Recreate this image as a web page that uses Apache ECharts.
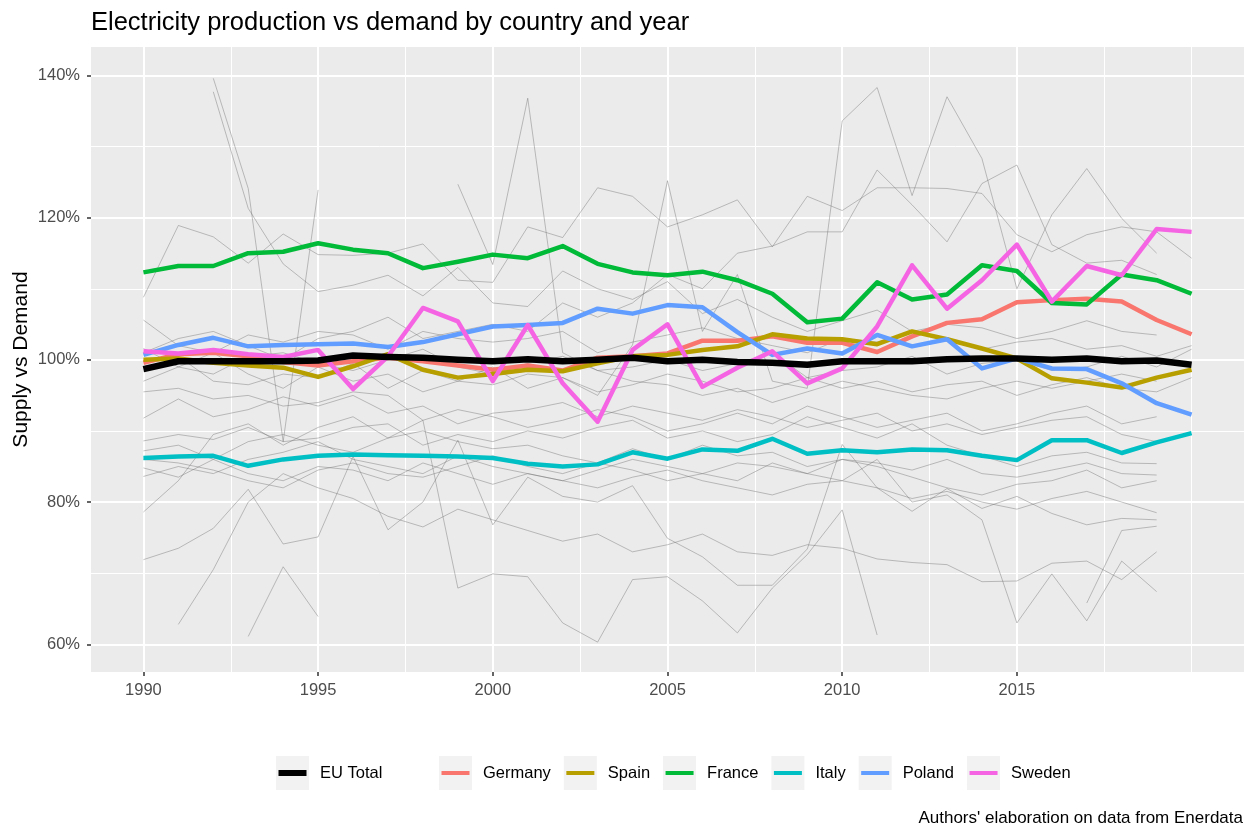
<!DOCTYPE html>
<html>
<head>
<meta charset="utf-8">
<script src="https://cdn.jsdelivr.net/npm/echarts@6.0.0/dist/echarts.min.js"></script>
<style>
  html, body { margin: 0; padding: 0; background: #fff; }
  #chart-container { width: 1250px; height: 827px; }
</style>
</head>
<body>
<div id="chart-container"></div>
<script>
// years on the x axis
const years = [1990, 1991, 1992, 1993, 1994, 1995, 1996, 1997, 1998, 1999,
  2000, 2001, 2002, 2003, 2004, 2005, 2006, 2007, 2008, 2009,
  2010, 2011, 2012, 2013, 2014, 2015, 2016, 2017, 2018, 2019, 2020];

// tick labels
const xTicks = [1990, 1995, 2000, 2005, 2010, 2015];
const xMinor = [1992.5, 1997.5, 2002.5, 2007.5, 2012.5, 2017.5, 2020];
const yTicks = [60, 80, 100, 120, 140];
const yMinor = [70, 90, 110, 130];

// highlighted series (supply / demand, %)
const euTotal = [98.7, 99.8, 99.8, 99.8, 99.8, 99.9, 100.6, 100.4, 100.3, 100.0, 99.8, 100.1, 99.8, 100.0, 100.3, 99.8, 100.0, 99.7, 99.6, 99.3, 99.8, 99.8, 99.8, 100.1, 100.2, 100.2, 100.0, 100.2, 99.8, 99.9, 99.3];
const germany = [99.6, 100.8, 101.0, 100.5, 99.7, 99.2, 99.8, 100.3, 99.8, 99.2, 98.6, 99.2, 98.5, 100.3, 100.5, 100.9, 102.7, 102.7, 103.3, 102.4, 102.4, 101.1, 103.3, 105.2, 105.7, 108.1, 108.4, 108.6, 108.2, 105.6, 103.6];
const spain = [100.0, 100.2, 99.6, 99.2, 98.9, 97.6, 99.1, 100.8, 98.6, 97.5, 98.0, 98.6, 98.4, 99.5, 100.5, 100.7, 101.4, 101.9, 103.6, 103.0, 102.9, 102.2, 104.0, 102.9, 101.6, 100.2, 97.4, 96.8, 96.1, 97.5, 98.6];
const france = [112.3, 113.2, 113.2, 115.0, 115.2, 116.4, 115.5, 115.0, 112.9, 113.8, 114.8, 114.3, 116.0, 113.5, 112.3, 111.9, 112.4, 111.2, 109.3, 105.3, 105.8, 110.9, 108.5, 109.2, 113.3, 112.5, 108.0, 107.8, 112.0, 111.2, 109.3];
const italy = [86.2, 86.4, 86.5, 85.1, 86.0, 86.5, 86.7, 86.6, 86.5, 86.4, 86.2, 85.4, 85.0, 85.3, 87.0, 86.1, 87.4, 87.2, 88.9, 86.8, 87.3, 87.0, 87.4, 87.3, 86.5, 85.9, 88.7, 88.7, 86.9, 88.4, 89.7];
const poland = [100.7, 102.1, 103.1, 101.9, 102.1, 102.2, 102.3, 101.8, 102.5, 103.6, 104.7, 104.9, 105.2, 107.2, 106.5, 107.7, 107.4, 103.9, 100.7, 101.6, 100.9, 103.5, 101.9, 102.9, 98.8, 100.2, 98.8, 98.7, 96.7, 93.9, 92.3];
const sweden = [101.2, 100.9, 101.4, 100.8, 100.4, 101.4, 95.9, 100.5, 107.3, 105.4, 97.0, 104.9, 96.7, 91.3, 101.4, 105.0, 96.2, 98.9, 101.2, 96.7, 98.8, 104.7, 113.3, 107.2, 111.2, 116.2, 108.2, 113.2, 111.9, 118.4, 118.0];

// the other countries, drawn in grey
const grey01 = [108.8, 118.9, 117.3, 113.6, 117.7, 114.8, 114.7, 115.0, 116.3, 111.2, 110.9, 118.7, 117.2, 124.2, 123.0, 118.7, 120.4, 122.5, 115.9, 123.0, 121.0, 124.2, 124.2, 124.1, 123.4, 117.6, 115.2, 117.6, 118.7, 118.0, 114.3];
const grey02 = [null, null, 137.7, 121.3, 113.5, 109.6, 110.5, 111.9, 109.0, 113.0, 108.0, 107.5, 112.5, 110.0, 108.5, 111.0, 106.5, 108.5, 106.0, 104.0, 105.5, 107.0, 104.0, 105.0, 104.5, 103.0, 104.0, 105.5, 104.0, 103.5, null];
const grey03 = [null, null, 139.6, 124.1, 88.5, 123.9, null, null, null, null, null, null, null, null, null, null, null, null, null, null, null, null, null, null, null, null, null, null, null, null, null];
const grey04 = [null, null, null, null, null, null, null, null, null, 124.7, 113.4, 136.8, 101.0, 98.5, 97.0, 96.5, 95.0, 96.0, 94.0, 95.5, 97.0, 96.0, 95.0, 94.5, 96.0, 97.0, 96.0, 97.0, 98.0, 97.0, null];
const grey05 = [97.0, 99.0, 101.0, 98.0, 96.0, 99.0, 97.0, 98.0, 95.5, 97.0, 99.0, 96.0, 97.5, 95.0, 102.1, 125.2, 104.0, 112.0, 97.0, 96.0, 133.6, 138.3, 123.1, 137.0, 128.3, 110.0, 120.4, 126.9, 119.9, 115.0, null];
const grey06 = [101.0, 103.0, 104.0, 102.0, 100.0, 103.0, 104.0, 106.0, 103.0, 104.0, 105.0, 104.0, 108.0, 106.0, 108.0, 112.0, 110.0, 115.0, 116.0, 118.0, 118.0, 126.7, 121.8, 116.6, 124.8, 127.4, 116.2, 113.6, 114.0, 112.0, null];
const grey07 = [105.6, 102.0, 101.0, 103.5, 102.5, 104.0, 103.5, 101.5, 104.0, 103.0, 102.5, 103.0, 104.0, 101.0, 102.5, 103.5, 104.5, 103.0, 102.0, 101.0, 103.0, 102.5, 104.0, 103.0, 101.5, 102.5, 103.0, 101.5, 102.0, 100.5, 102.0];
const grey08 = [101.6, 99.0, 98.0, 100.5, 101.0, 99.5, 98.5, 100.0, 101.5, 99.0, 98.0, 99.5, 100.5, 98.5, 99.0, 100.0, 98.5, 99.5, 101.0, 97.5, 98.5, 99.0, 100.5, 98.0, 99.5, 100.0, 98.5, 99.0, 100.5, 99.0, 101.5];
const grey09 = [98.4, 100.5, 97.0, 96.5, 98.0, 97.5, 99.5, 96.0, 98.5, 97.0, 96.5, 98.0, 97.5, 95.5, 96.5, 98.0, 97.0, 95.5, 96.0, 97.5, 96.0, 97.0, 95.5, 96.5, 97.0, 95.0, 96.5, 97.5, 96.0, 95.5, 97.5];
const grey10 = [95.5, 96.0, 94.5, 95.0, 93.5, 94.0, 95.5, 95.0, 91.5, 67.9, 69.9, 69.5, 63.0, 60.3, 69.1, 69.5, 66.1, 61.6, 67.9, 72.6, 78.9, 61.3, null, null, null, null, null, null, null, null, null];
const grey11 = [91.8, 94.5, 92.0, 93.0, 94.8, 93.5, 95.0, 92.5, 93.5, 91.0, 92.5, 93.0, 94.0, 92.0, 93.5, 92.5, 91.5, 93.0, 92.0, 90.5, 91.5, 92.5, 90.0, 91.0, 89.5, 90.5, 91.5, 92.0, 89.5, 88.5, null];
const grey12 = [88.6, 89.5, 88.8, 90.5, 88.5, 89.0, 90.5, 91.0, 88.0, 89.5, 88.5, 90.0, 89.0, 90.5, 91.5, 89.0, 90.0, 88.5, 89.5, 92.0, 90.5, 89.0, 91.0, 88.0, 86.5, 85.0, 86.5, 87.0, 85.5, 85.4, null];
const grey13 = [87.2, 88.0, 86.0, 88.5, 89.5, 88.0, 87.0, 89.0, 90.0, 88.5, 87.5, 88.0, 86.5, 85.5, 87.5, 86.0, 88.0, 86.5, 87.0, 85.0, 86.0, 85.5, 84.5, 86.0, 84.0, 83.5, 84.5, 85.5, 84.0, 83.8, null];
const grey14 = [84.8, 83.5, 86.0, 84.0, 83.0, 85.0, 84.5, 83.0, 85.5, 84.0, 82.5, 84.0, 83.0, 82.0, 83.5, 84.5, 83.0, 82.0, 81.0, 82.5, 83.0, 82.0, 80.5, 81.5, 80.0, 79.0, 80.5, 81.5, 80.0, 78.5, null];
const grey15 = [83.6, 85.0, 84.0, 86.0, 87.0, 88.5, 86.0, 85.0, 84.0, 86.5, 85.0, 84.0, 83.0, 84.5, 86.0, 85.0, 84.0, 83.0, 85.5, 84.0, 86.0, 85.0, 83.5, 82.0, 81.0, 82.5, 83.0, 84.5, 82.0, 83.0, null];
const grey16 = [78.6, 83.0, 89.5, 91.0, 88.0, 90.5, 92.0, 89.0, 91.5, 93.0, 92.0, 90.5, 91.5, 93.0, 92.0, 90.0, 91.0, 92.5, 91.0, 93.5, 92.0, 90.5, 91.5, 92.5, 90.0, 91.0, 92.5, 93.5, 91.0, 92.0, null];
const grey17 = [71.9, 73.5, 76.3, 81.8, 74.1, 75.1, 86.4, 76.1, 80.0, 88.7, 76.8, 83.5, 80.8, 80.0, 82.3, 74.9, 72.3, 68.3, 68.3, 73.4, 88.1, 82.0, 78.7, 81.9, 79.1, 80.8, 78.4, 76.8, 77.7, 77.5, null];
const grey18 = [null, 62.8, 70.5, 80.0, 84.0, 82.0, 80.5, 78.0, 76.5, 79.0, 77.5, 76.0, 74.5, 75.5, 73.0, 74.0, 75.5, 73.0, 72.5, 74.0, 73.5, 72.0, 71.5, 71.2, 68.8, 68.9, 71.4, 71.7, 69.1, 73.0, null];
const grey19 = [86.0, 85.5, 84.5, 83.0, 82.0, 84.5, 85.5, 84.0, 83.5, 85.0, 86.5, 85.0, 84.0, 85.5, 84.5, 83.0, 84.0, 85.5, 85.0, 84.0, 83.0, 86.0, 80.0, 81.0, 77.5, 63.0, 69.9, 63.3, 71.7, 67.4, null];
const grey20 = [null, null, null, null, null, null, null, null, null, null, null, null, null, null, null, null, null, null, null, null, null, null, null, null, null, null, null, 65.8, 76.0, 76.6, null];
const grey21 = [null, null, null, 61.1, 70.9, 63.9, null, null, null, null, null, null, null, null, null, null, null, null, null, null, null, null, null, null, null, null, null, null, null, null, null];

const greyLines = [grey01, grey02, grey03, grey04, grey05, grey06, grey07, grey08, grey09, grey10,
  grey11, grey12, grey13, grey14, grey15, grey16, grey17, grey18, grey19, grey20, grey21];

const highlighted = [
  { name: 'Germany', values: germany, color: '#F8766D', width: 4.5 },
  { name: 'Spain', values: spain, color: '#B79F00', width: 4.5 },
  { name: 'France', values: france, color: '#00BA38', width: 4.5 },
  { name: 'Italy', values: italy, color: '#00BFC4', width: 4.5 },
  { name: 'Poland', values: poland, color: '#619CFF', width: 4.5 },
  { name: 'Sweden', values: sweden, color: '#F564E3', width: 4.5 },
  { name: 'EU Total', values: euTotal, color: '#000000', width: 6.5 }
];

function toPoints(values) {
  const pts = [];
  values.forEach(function (v, i) {
    if (v !== null) pts.push([years[i], v]);
  });
  return pts;
}

const series = [];

// minor grid lines (ggplot style), kept under the data
series.push({
  name: 'minor-grid',
  type: 'line',
  data: [],
  silent: true,
  markLine: {
    silent: true,
    z: 1,
    symbol: ['none', 'none'],
    label: { show: false },
    emphasis: { disabled: true },
    lineStyle: { color: '#FFFFFF', width: 1, type: 'solid', opacity: 1 },
    animation: false,
    data: xMinor.map(v => ({ xAxis: v })).concat(yMinor.map(v => ({ yAxis: v })))
  }
});

greyLines.forEach(function (vals, idx) {
  series.push({
    name: 'other' + idx,
    type: 'line',
    z: 3,
    data: toPoints(vals),
    showSymbol: false,
    symbol: 'none',
    silent: true,
    lineStyle: { color: 'rgba(110,110,110,0.42)', width: 1 }
  });
});

highlighted.forEach(function (h) {
  series.push({
    name: h.name,
    type: 'line',
    z: 4,
    data: toPoints(h.values),
    showSymbol: false,
    symbol: 'none',
    color: h.color,
    itemStyle: { color: h.color },
    lineStyle: { color: h.color, width: h.width, join: 'round', cap: 'butt' }
  });
});

// legend keys: grey box behind, coloured bar in front
const keyBox = 'path://M0,0H33V34H0ZM39,34';
const keyBar = 'path://M0,0M39,34M2.5,15H30.5V19H2.5Z';
const keyBarThick = 'path://M0,0M39,34M2.5,14H30.5V20H2.5Z';
const countryNames = ['Germany', 'Spain', 'France', 'Italy', 'Poland', 'Sweden'];

function legendPair(names, left, gap) {
  const base = {
    orient: 'horizontal',
    left: left,
    top: 756,
    padding: 0,
    itemWidth: 39,
    itemHeight: 34,
    itemGap: gap,
    selectedMode: false,
    textStyle: { fontFamily: 'Liberation Sans, Arial, sans-serif', fontSize: 16.5 }
  };
  const back = Object.assign({}, base, {
    z: 2,
    data: names.map(n => ({ name: n, icon: keyBox })),
    itemStyle: { color: '#F2F2F2', borderWidth: 0 },
    textStyle: Object.assign({}, base.textStyle, { color: 'rgba(0,0,0,0)' })
  });
  const front = Object.assign({}, base, {
    z: 3,
    data: names.map(n => ({ name: n, icon: n === 'EU Total' ? keyBarThick : keyBar })),
    itemStyle: { borderWidth: 0 },
    textStyle: Object.assign({}, base.textStyle, { color: '#000000' })
  });
  return [back, front];
}

const legends = legendPair(['EU Total'], 276, 10).concat(legendPair(countryNames, 439, 13));

const chart = echarts.init(document.getElementById('chart-container'), null, { renderer: 'canvas' });
chart.setOption({
  animation: false,
  backgroundColor: '#FFFFFF',
  textStyle: { fontFamily: 'Liberation Sans, Arial, sans-serif' },
  title: [
    {
      text: 'Electricity production vs demand by country and year',
      left: 91,
      top: 10,
      padding: 0,
      textStyle: { fontSize: 25.5, fontWeight: 'normal', color: '#000000', fontFamily: 'Liberation Sans, Arial, sans-serif' }
    },
    {
      text: "Authors' elaboration on data from Enerdata",
      right: 7,
      top: 810,
      padding: 0,
      textStyle: { fontSize: 17, fontWeight: 'normal', color: '#000000', fontFamily: 'Liberation Sans, Arial, sans-serif' }
    }
  ],
  legend: legends,
  grid: {
    left: 91,
    right: 6,
    top: 47,
    bottom: 155,
    show: true,
    backgroundColor: '#EBEBEB',
    borderWidth: 0,
    containLabel: false,
    outerBoundsMode: 'none'
  },
  xAxis: {
    type: 'value',
    min: 1988.5,
    max: 2021.5,
    axisLine: { show: false },
    axisTick: { show: true, customValues: xTicks, length: 4, lineStyle: { color: '#333333', width: 1.5 } },
    axisLabel: {
      customValues: xTicks,
      color: '#4D4D4D',
      fontSize: 16.5,
      margin: 10,
      formatter: v => String(v)
    },
    splitLine: { show: true, lineStyle: { color: '#FFFFFF', width: 2 } },
    minorSplitLine: { show: false }
  },
  yAxis: {
    type: 'value',
    min: 56.1,
    max: 144,
    name: 'Supply vs Demand',
    nameLocation: 'middle',
    nameRotate: 90,
    nameGap: 59,
    nameMoveOverlap: false,
    nameTextStyle: { fontSize: 21, color: '#000000', fontFamily: 'Liberation Sans, Arial, sans-serif' },
    axisLine: { show: false },
    axisTick: { show: true, customValues: yTicks, length: 4, lineStyle: { color: '#333333', width: 1.5 } },
    axisLabel: {
      customValues: yTicks,
      color: '#4D4D4D',
      fontSize: 16.5,
      margin: 11,
      formatter: v => v + '%'
    },
    splitLine: { show: true, lineStyle: { color: '#FFFFFF', width: 2 } }
  },
  series: series
});
</script>
</body>
</html>
